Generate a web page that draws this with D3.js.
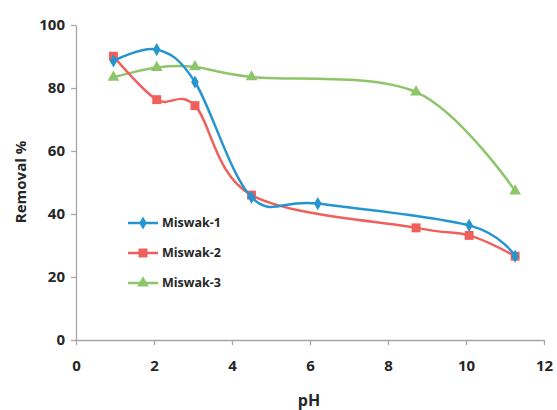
<!DOCTYPE html>
<html>
<head>
<meta charset="utf-8">
<script src="https://cdn.jsdelivr.net/npm/d3@7"></script>
<style>
  body { margin: 0; background: #fff; }
  text { font-family: "Open Sans", Lato, sans-serif; font-weight: bold; fill: #262626; }
</style>
</head>
<body>
<div id="chart-area"></div>
<script>
// pH values and removal %
var ph1 = [0.96, 2.07, 3.05, 4.5, 6.2, 10.08, 11.26];
var miswak1 = [88.6, 92.2, 81.9, 45.3, 43.3, 36.4, 26.6];

var ph2 = [0.96, 2.07, 3.05, 4.5, 8.72, 10.08, 11.26];
var miswak2 = [90.1, 76.3, 74.4, 46.0, 35.6, 33.2, 26.6];

var ph3 = [0.96, 2.07, 3.05, 4.5, 8.72, 11.26];
var miswak3 = [83.4, 86.5, 86.7, 83.5, 78.7, 47.3];

var seriesNames = ["Miswak-1", "Miswak-2", "Miswak-3"];
var xTicks = [0, 2, 4, 6, 8, 10, 12];
var yTicks = [0, 20, 40, 60, 80, 100];

var margin = { top: 25, right: 12, bottom: 70, left: 76 },
    width = 557 - margin.left - margin.right,
    height = 410 - margin.top - margin.bottom;

var svg = d3.select("#chart-area")
    .append("svg")
    .attr("width", 557)
    .attr("height", 410);

var g = svg.append("g")
    .attr("transform", "translate(" + margin.left + "," + margin.top + ")");

var x = d3.scaleLinear().domain([0, 12]).range([0, 468]);
var y = d3.scaleLinear().domain([0, 100]).range([315, 0]);

var xAxisCall = d3.axisBottom(x).tickValues(xTicks).tickSize(5).tickSizeOuter(0);
var yAxisCall = d3.axisLeft(y).tickValues(yTicks).tickSize(5).tickSizeOuter(0);

var xAxisGroup = g.append("g")
    .attr("transform", "translate(0," + 315 + ")")
    .call(xAxisCall);
var yAxisGroup = g.append("g").call(yAxisCall);

[xAxisGroup, yAxisGroup].forEach(function(ax) {
    ax.select(".domain").attr("stroke", "#a6a6a6").attr("stroke-width", 1.3);
    ax.selectAll(".tick line").attr("stroke", "#a6a6a6").attr("stroke-width", 1.3);
    ax.selectAll(".tick text")
        .style("font-family", "'Open Sans', sans-serif")
        .style("font-weight", "bold")
        .style("font-size", "15px")
        .attr("fill", "#262626");
});
xAxisGroup.selectAll(".tick text").attr("dy", "1.55em");
yAxisGroup.selectAll(".tick text").attr("x", -11);

// axis labels
g.append("text")
    .attr("x", 233)
    .attr("y", 381)
    .attr("text-anchor", "middle")
    .style("font-size", "16px")
    .text("pH");

g.append("text")
    .attr("transform", "rotate(-90)")
    .attr("x", -157)
    .attr("y", -50)
    .attr("text-anchor", "middle")
    .style("font-size", "15px")
    .text("Removal %");

var series = [
    { name: seriesNames[0], xs: ph1, ys: miswak1, color: "#2595cf", shape: d3.symbolDiamond, size: 50 },
    { name: seriesNames[1], xs: ph2, ys: miswak2, color: "#ef605c", shape: d3.symbolSquare, size: 80 },
    { name: seriesNames[2], xs: ph3, ys: miswak3, color: "#8dc66a", shape: d3.symbolTriangle, size: 60 }
];

var line = d3.line()
    .x(function(d) { return x(d[0]); })
    .y(function(d) { return y(d[1]); })
    .curve(d3.curveCardinal.tension(0));

// draw green first so blue/red sit on top
series.slice().reverse().forEach(function(s) {
    var pts = s.xs.map(function(v, i) { return [v, s.ys[i]]; });
    g.append("path")
        .datum(pts)
        .attr("fill", "none")
        .attr("stroke", s.color)
        .attr("stroke-width", 2.5)
        .attr("d", line);
    g.selectAll(null)
        .data(pts)
        .enter().append("path")
        .attr("transform", function(d) { return "translate(" + x(d[0]) + "," + y(d[1]) + ")"; })
        .attr("d", d3.symbol().type(s.shape).size(s.size))
        .attr("fill", s.color);
});

// legend
var legend = g.append("g").attr("transform", "translate(52,198)");
series.forEach(function(s, i) {
    var row = legend.append("g").attr("transform", "translate(0," + (i * 30) + ")");
    row.append("line")
        .attr("x1", 0).attr("x2", 30)
        .attr("stroke", s.color)
        .attr("stroke-width", 2.5);
    row.append("path")
        .attr("transform", "translate(15,0)")
        .attr("d", d3.symbol().type(s.shape).size(s.size))
        .attr("fill", s.color);
    row.append("text")
        .attr("x", 34)
        .attr("dy", "0.35em")
        .style("font-size", "12.5px")
        .text(s.name);
});
</script>
</body>
</html>
